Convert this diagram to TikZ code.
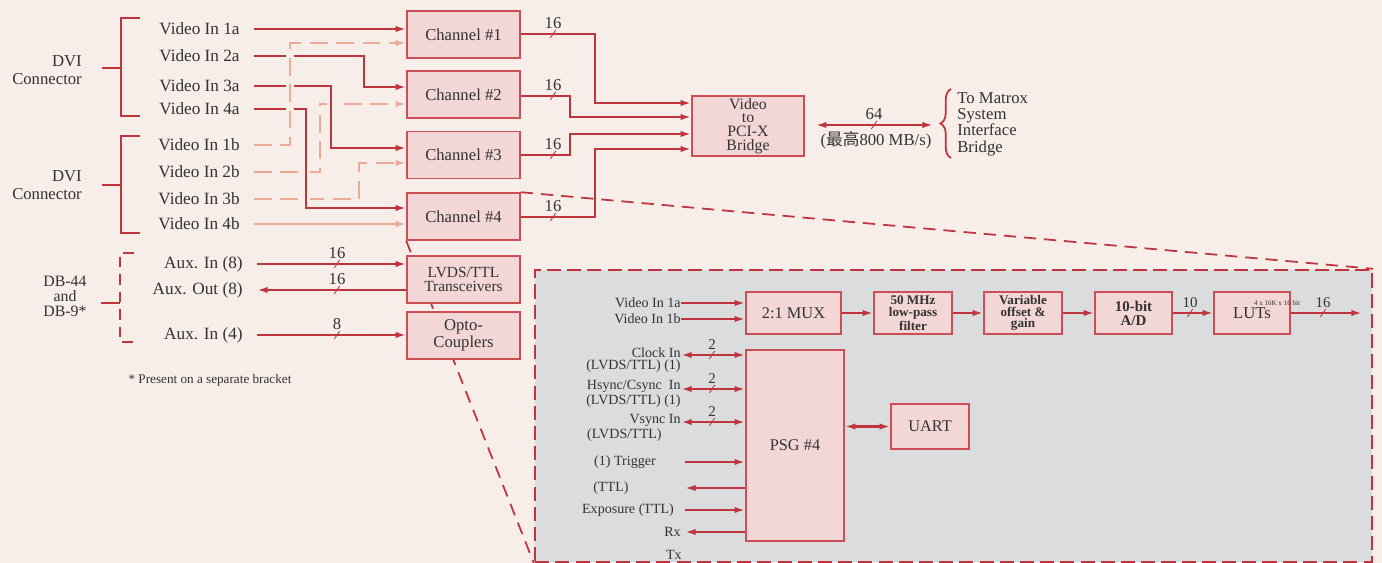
\documentclass[tikz,border=0pt]{standalone}
\usepackage{fontspec}
\setmainfont{Liberation Serif}
\newfontfamily\cjk{Noto Sans CJK SC}
\usetikzlibrary{arrows.meta,backgrounds,decorations.pathreplacing}

\definecolor{bgpink}{RGB}{247,237,233}
\definecolor{wirered}{RGB}{192,52,62}
\definecolor{boxred}{RGB}{205,78,84}
\definecolor{boxpink}{RGB}{243,214,214}
\definecolor{salmon}{RGB}{234,172,150}
\definecolor{zoomgray}{RGB}{219,220,222}

\tikzset{
  pics/bus/.style={code={
    \draw[wirered,line width=0.5pt] (-1.5pt,-2.2pt) -- (1.5pt,2.2pt);
    \node[buslab] at (0pt,6pt) {#1};
  }}
}

\begin{document}
\begin{tikzpicture}[x=0.02cm,y=-0.02cm,
  >={Latex[length=6pt,width=3.6pt]},
  box/.style={draw=boxred,fill=boxpink,line width=0.9pt,inner sep=0pt,align=center,text=black!80},
  chan/.style={box,minimum width=2.26cm,minimum height=0.94cm,font=\fontsize{9.5}{10}\selectfont},
  blk/.style={box,minimum height=0.84cm,font=\fontsize{9.3}{8}\selectfont},
  blkb/.style={blk,font=\fontsize{7.5}{6.6}\selectfont\bfseries},
  sig/.style={anchor=east,inner xsep=0.28cm,inner ysep=0pt,text=black!80,font=\fontsize{9.8}{10}\selectfont},
  dsig/.style={inner sep=0pt,align=right,text=black!80,font=\fontsize{8}{7}\selectfont},
  side/.style={text=black!80,font=\fontsize{9.5}{10.2}\selectfont},
  buslab/.style={inner sep=0pt,text=black!80,font=\fontsize{9.5}{10}\selectfont},
  wire/.style={draw=wirered,line width=1.3pt,->},
  dwire/.style={wire,<->},
  lite/.style={wire,draw=salmon},
  litedash/.style={lite,dash pattern=on 10pt off 5pt},
  halo/.style={preaction={draw=bgpink,line width=4.5pt,solid,arrows=-,shorten >=3pt}},
  brk/.style={draw=wirered,line width=1.5pt},
  zoomline/.style={draw=wirered,line width=1pt,dash pattern=on 7pt off 4.5pt},
  zoombox/.style={draw=wirered,fill=zoomgray,line width=1.4pt,dash pattern=on 8pt off 3.5pt,
    minimum width=16.74cm,minimum height=5.84cm,inner sep=0pt}
]
  \useasboundingbox (0,0) rectangle (1382,563);

  % Connectors
  \node[side,align=right,anchor=east] (dvia) at (88,70) {DVI\\Connector};
  \node[side,align=right,anchor=east] (dvib) at (88,185) {DVI\\Connector};
  \node[side,align=center,font=\fontsize{9}{8.6}\selectfont] (db) at (65,296) {DB-44\\and\\DB-9*};
  \draw[brk] (140,18) -| (121,116) -- (140,116);
  \draw[brk] (102,68) -- (121,68);
  \draw[brk] (140,136) -| (121,233) -- (140,233);
  \draw[brk] (102,185) -- (121,185);
  \draw[brk,dash pattern=on 6pt off 4pt] (134,253) -| (120,342) -- (134,342);
  \draw[brk] (101,303) -- (120,303);

  % Inputs
  \node[sig] (v1a) at (254,29) {Video In 1a};
  \node[sig] (v2a) at (254,56) {Video In 2a};
  \node[sig] (v3a) at (254,86) {Video In 3a};
  \node[sig] (v4a) at (254,109) {Video In 4a};
  \node[sig] (v1b) at (254,145) {Video In 1b};
  \node[sig] (v2b) at (254,172) {Video In 2b};
  \node[sig] (v3b) at (254,199) {Video In 3b};
  \node[sig] (v4b) at (254,224) {Video In 4b};
  \node[sig] (auxi8) at (257,264) {Aux. In (8)};
  \node[sig] (auxo8) at (257,290) {Aux. Out (8)};
  \node[sig] (auxi4) at (257,335) {Aux. In (4)};
  \node[text=black!80,font=\fontsize{7.5}{8}\selectfont] (note) at (210,380) {* Present on a separate bracket};

  % Channels and bridge
  \node[chan] (ch1) at (463.5,34.5) {Channel \#1};
  \node[chan] (ch2) at (463.5,94.5) {Channel \#2};
  \node[chan] (ch3) at (463.5,155) {Channel \#3};
  \node[chan] (ch4) at (463.5,216.5) {Channel \#4};
  \node[chan,font=\fontsize{8.8}{7.8}\selectfont] (lvds) at (463.5,279.5) {LVDS/TTL\\Transceivers};
  \node[chan,font=\fontsize{9.5}{8}\selectfont] (opto) at (463.5,335.5) {Opto-\\Couplers};
  \node[chan,minimum width=2.24cm,minimum height=1.2cm,font=\fontsize{9}{7.8}\selectfont] (bridge) at (748,126) {Video\\to\\PCI-X\\Bridge};
  \node[anchor=west,align=left,inner sep=0pt,text=black!80,font=\fontsize{9.5}{9.3}\selectfont] (tomatrox) at (957,124) {To Matrox\\System\\Interface\\Bridge};
  \draw[brk,line width=1pt,decorate,decoration={brace,amplitude=6pt}] (951,158) -- (951,89);

  % Zoomed PSG #4 area
  \node[zoombox] (zoomarea) at (953.5,416) {};
  \begin{scope}[on background layer]
    \fill[bgpink] (0,0) rectangle (1382,563);
    \draw[zoomline] (ch4.south west) -- (zoomarea.south west);
    \draw[zoomline] (ch4.north east) -- (zoomarea.north east);
  \end{scope}

  % Video routing
  \draw[litedash] (v2b.east) -| (320,104) -- (ch2.west |- 0,104);
  \draw[litedash] (v3b.east) -| (359,163) -- (ch3.west |- 0,163);
  \draw[wire] (v1a.east) -- (ch1.west |- v1a);
  \draw[wire,halo] (v2a.east) -| (364,87) -- (ch2.west |- 0,87);
  \draw[wire,halo] (v3a.east) -| (331,148) -- (ch3.west |- 0,148);
  \draw[wire,halo] (v4a.east) -| (306,208) -- (ch4.west |- 0,208);
  \draw[litedash,halo] (v1b.east) -| (290,43) -- (ch1.west |- 0,43);
  \draw[lite] (v4b.east) -- (ch4.west |- v4b);

  % Channel outputs
  \draw[wire] (ch1.east |- 0,34) -| (595,103) -- (bridge.west |- 0,103);
  \draw[wire] (ch2.east |- 0,96) -| (570,117) -- (bridge.west |- 0,117);
  \draw[wire] (ch3.east |- 0,155) -| (570,134) -- (bridge.west |- 0,134);
  \draw[wire] (ch4.east |- 0,217) -| (595,149) -- (bridge.west |- 0,149);
  \foreach \y in {34,96,155,217}{
    \pic at (553,\y) {bus=16};
  }
  \draw[dwire,shorten <=0.22cm,shorten >=0.48cm] (bridge.east |- 0,125) -- (tomatrox.west |- 0,125);
  \pic at (874,125) {bus=64};
  \node[buslab] (rate) at (876,140) {({\cjk 最高}800 MB/s)};

  % Aux lines
  \draw[wire] (auxi8.east) -- (lvds.west |- auxi8);
  \draw[wire] (lvds.west |- auxo8) -- (auxo8.east);
  \draw[wire] (auxi4.east) -- (opto.west |- auxi4);
  \pic at (337,264) {bus=16};
  \pic at (337,290) {bus=16};
  \pic at (337,335) {bus=8};

  % Inside the zoom
  \begin{scope}[wire/.append style={line width=1.2pt},
    buslab/.style={inner sep=0pt,text=black!80,font=\fontsize{8.5}{9}\selectfont}]
    \node[blk,minimum width=1.9cm] (mux) at (793.5,313) {2:1 MUX};
    \node[blkb,minimum width=1.56cm] (lpf) at (913,313) {50 MHz\\low-pass\\filter};
    \node[blkb,minimum width=1.56cm] (var) at (1023,313) {Variable\\offset \&\\gain};
    \node[blk,minimum width=1.54cm,font=\fontsize{8.5}{8}\selectfont\bfseries] (adc) at (1133.5,313) {10-bit\\A/D};
    \node[blk,minimum width=1.52cm,font=\fontsize{9.5}{10}\selectfont] (luts) at (1252,313) {LUTs};
    \node[inner sep=0pt,text=black!80,font=\fontsize{4}{4}\selectfont] (lutsize) at (1277,303) {4 x 16K x 16 bit};
    \coordinate (lutout) at (1362,313);
    \node[blk,minimum width=1.96cm,minimum height=3.82cm] (psg) at (795,445.5) {PSG \#4};
    \node[blk,minimum width=1.56cm,minimum height=0.9cm] (uart) at (930,426.5) {UART};

    \node[dsig,anchor=east] (d1a) at (681,303) {Video In 1a};
    \node[dsig,anchor=east] (d1b) at (681,319) {Video In 1b};
    \node[dsig,anchor=east] (clk) at (681,360) {Clock In\\(LVDS/TTL) (1)};
    \node[dsig,anchor=east] (hsync) at (681,394) {Hsync/Csync\ \ In\\(LVDS/TTL) (1)};
    \node[dsig,anchor=east] (vsync) at (681,428) {Vsync In\\(LVDS/TTL)\hspace*{0.38cm}};
    \node[dsig] (trig) at (625,462) {(1) Trigger};
    \node[dsig] (ttlout) at (611,488) {(TTL)};
    \node[dsig] (expo) at (628,510) {Exposure (TTL)};
    \node[dsig,anchor=east] (rx) at (681,532) {Rx};
    \node[dsig,anchor=east] (tx) at (682,555) {Tx};
    \coordinate (sigx) at (685,0);

    \draw[wire] (d1a.east) -- (mux.west |- d1a);
    \draw[wire] (d1b.east) -- (mux.west |- d1b);
    \draw[wire] (mux) -- (lpf);
    \draw[wire] (lpf) -- (var);
    \draw[wire] (var) -- (adc);
    \draw[wire] (adc) -- (luts);
    \draw[wire] (luts) -- (lutout);
    \pic at (1190,313) {bus=10};
    \pic at (1323,313) {bus=16};

    \draw[dwire] (clk.east |- 0,355) -- (psg.west |- 0,355);
    \draw[dwire] (hsync.east |- 0,389) -- (psg.west |- 0,389);
    \draw[dwire] (vsync.east |- 0,422) -- (psg.west |- 0,422);
    \foreach \y in {355,389,422}{
      \pic at (712,\y) {bus=2};
    }
    \draw[wire] (sigx |- trig) -- (psg.west |- trig);
    \draw[wire] (psg.west |- ttlout) -- (sigx |- ttlout);
    \draw[wire] (sigx |- expo) -- (psg.west |- expo);
    \draw[wire] (psg.west |- rx) -- (sigx |- rx);
    \draw[dwire] (psg.east |- uart) -- (uart);
  \end{scope}
\end{tikzpicture}
\end{document}
